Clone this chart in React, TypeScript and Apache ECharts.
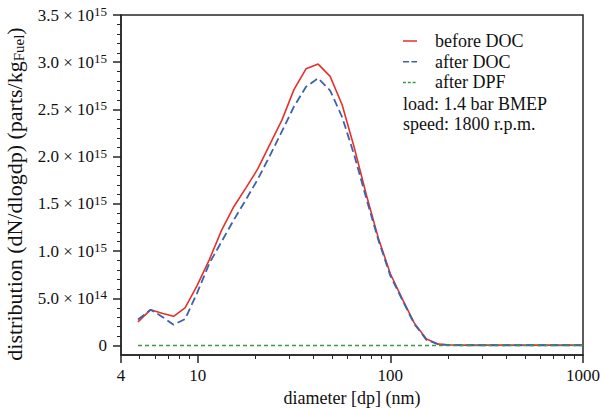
import React, { useEffect, useRef } from 'react';
import * as echarts from 'echarts';

// particle diameter (nm)
const diameters = [
  4.9, 5.7, 6.6, 7.5, 8.6, 9.9, 11.5, 13.3, 15.4, 17.8, 20.5, 23.7, 27.4, 31.6,
  36.5, 42.2, 48.7, 56.2, 64.9, 75.0, 86.6, 100, 115, 133, 154, 178, 205, 237,
  274, 316, 365, 422, 487, 562, 649, 750, 866, 1000,
];
// distribution values in units of 1e15 parts/kg fuel
const beforeDOC = [
  0.25, 0.38, 0.34, 0.31, 0.4, 0.63, 0.91, 1.22, 1.47, 1.67, 1.87, 2.13, 2.39, 2.71,
  2.93, 2.98, 2.85, 2.55, 2.1, 1.6, 1.14, 0.76, 0.5, 0.24, 0.07, 0.015, 0.006, 0.005,
  0.005, 0.005, 0.005, 0.005, 0.005, 0.005, 0.005, 0.005, 0.005, 0.005,
];
const afterDOC = [
  0.275, 0.38, 0.3, 0.22, 0.28, 0.55, 0.87, 1.1, 1.33, 1.545, 1.76, 2.01, 2.27, 2.53,
  2.74, 2.83, 2.7, 2.42, 2.02, 1.56, 1.12, 0.74, 0.49, 0.23, 0.06, 0.012, 0.004, 0.003,
  0.003, 0.003, 0.003, 0.003, 0.003, 0.003, 0.003, 0.003, 0.003, 0.003,
];
const afterDPF = [
  0, 0, 0, 0, 0, 0, 0, 0, 0, 0, 0, 0, 0, 0,
  0, 0, 0, 0, 0, 0, 0, 0, 0, 0, 0, 0, 0, 0,
  0, 0, 0, 0, 0, 0, 0, 0, 0, 0,
];
const seriesNames = ['before DOC', 'after DOC', 'after DPF'];
const noteLines = ['load: 1.4 bar BMEP', 'speed: 1800 r.p.m.'];

const xMajorTicks = [4, 10, 100, 1000];
const xMinorTicks = [5, 6, 7, 8, 9, 20, 30, 40, 50, 60, 70, 80, 90, 200, 300, 400, 500, 600, 700, 800, 900];
const yMajorTicks = [0, 0.5e15, 1.0e15, 1.5e15, 2.0e15, 2.5e15, 3.0e15, 3.5e15];
const yMinorTicks = [
  1e14, 2e14, 3e14, 4e14, 6e14, 7e14, 8e14, 9e14, 11e14, 12e14, 13e14, 14e14,
  16e14, 17e14, 18e14, 19e14, 21e14, 22e14, 23e14, 24e14, 26e14, 27e14, 28e14, 29e14,
  31e14, 32e14, 33e14, 34e14,
];

const FONT = '"Liberation Serif", "Times New Roman", serif';
const AXIS = '#262626';
const TEXT = '#111111';
const RED = '#e5312b';
const BLUE = '#3b63ad';
const GREEN = '#3d9a44';
const seriesColors = [RED, BLUE, GREEN];
const seriesDash: (number[] | null)[] = [null, [8, 4], [4, 3]];
const legendDash: (number[] | null)[] = [null, [6, 2.5], [3, 1.8]];
const seriesWidth = [1.6, 1.8, 1.5];

function sciLabel(v: number): string {
  if (Math.abs(v) < 1) return '{m|0}';
  const e = Math.floor(Math.log10(v) + 1e-9);
  const m = v / Math.pow(10, e);
  return `{m|${m.toFixed(1)} × 10}{s|${e}}`;
}

export default function App() {
  const ref = useRef<HTMLDivElement>(null);
  useEffect(() => {
    if (!ref.current) return;
    const chart = echarts.init(ref.current, undefined, { renderer: 'svg' });
    const toPairs = (vals: number[]) => diameters.map((d, i) => [d, vals[i] * 1e15]);
    const axisLineStyle = { color: AXIS, width: 1.5 };
    const legendX = 403;
    const legendY0 = 41;
    const rowH = 20.7;
    const graphics: any[] = [];
    seriesNames.forEach((name, i) => {
      const y = legendY0 + i * rowH;
      graphics.push({
        type: 'line',
        shape: { x1: legendX, y1: y, x2: legendX + 14, y2: y },
        style: { stroke: seriesColors[i], lineWidth: 1.5, lineDash: legendDash[i] || undefined },
        silent: true,
      });
      graphics.push({
        type: 'text', x: legendX + 32, y,
        style: { text: name, fontFamily: FONT, fontSize: 18, fill: TEXT, verticalAlign: 'middle', align: 'left' },
        silent: true,
      });
    });
    noteLines.forEach((t, i) => {
      graphics.push({
        type: 'text', x: legendX, y: legendY0 + (3 + i) * rowH + 0.5,
        style: { text: t, fontFamily: FONT, fontSize: 18, fill: TEXT, verticalAlign: 'middle', align: 'left' },
        silent: true,
      });
    });

    const option: any = {
      animation: false,
      backgroundColor: '#ffffff',
      grid: {
        left: 121, right: 18, top: 15, bottom: 54,
        containLabel: false, outerBoundsMode: 'none',
        show: true, borderColor: AXIS, borderWidth: 1.5, backgroundColor: 'transparent',
      },
      graphic: graphics,
      xAxis: [
        {
          type: 'log', logBase: 10, min: 4, max: 1000, position: 'bottom',
          axisLine: { show: true, onZero: false, lineStyle: axisLineStyle },
          axisTick: { show: true, inside: false, length: 8, customValues: xMajorTicks, lineStyle: axisLineStyle },
          axisLabel: {
            customValues: xMajorTicks, fontFamily: FONT, fontSize: 17, color: TEXT, margin: 12,
            formatter: (v: number) => String(Math.round(v)),
          },
          splitLine: { show: false },
          name: 'diameter [dp] (nm)', nameLocation: 'middle', nameGap: 34,
          nameTextStyle: { fontFamily: FONT, fontSize: 18, color: TEXT },
        },
        {
          type: 'log', logBase: 10, min: 4, max: 1000, position: 'bottom',
          axisLine: { show: false, onZero: false },
          axisTick: { show: true, inside: false, length: 4, customValues: xMinorTicks, lineStyle: { color: AXIS, width: 1 } },
          axisLabel: { show: false },
          splitLine: { show: false },
        },
      ],
      yAxis: [
        {
          type: 'value', min: -1e14, max: 3.5e15, position: 'left',
          axisLine: { show: true, onZero: false, lineStyle: axisLineStyle },
          axisTick: { show: true, inside: false, length: 8, customValues: yMajorTicks, lineStyle: axisLineStyle },
          axisLabel: {
            customValues: yMajorTicks, margin: 14, formatter: sciLabel,
            rich: {
              m: { fontFamily: FONT, fontSize: 17, color: TEXT, lineHeight: 20 },
              s: { fontFamily: FONT, fontSize: 13, color: TEXT, lineHeight: 12, verticalAlign: 'top' },
            },
          },
          splitLine: { show: false },
          name: '{t|distribution (dN/dlogdp) (parts/kg}{b|Fuel}{t|)}',
          nameLocation: 'middle', nameGap: 89,
          nameTextStyle: {
            padding: [0, 18, 0, 0],
            rich: {
              t: { fontFamily: FONT, fontSize: 22, color: TEXT, lineHeight: 25 },
              b: { fontFamily: FONT, fontSize: 15, color: TEXT, lineHeight: 16, verticalAlign: 'bottom' },
            },
          },
        },
        {
          type: 'value', min: -1e14, max: 3.5e15, position: 'left', offset: 0,
          axisLine: { show: false, onZero: false },
          axisTick: { show: true, inside: false, length: 4, customValues: yMinorTicks, lineStyle: { color: AXIS, width: 1 } },
          axisLabel: { show: false },
          splitLine: { show: false },
        },
      ],
      series: seriesNames.map((name, i) => ({
        name, type: 'line', xAxisIndex: 0, yAxisIndex: 0,
        data: toPairs([beforeDOC, afterDOC, afterDPF][i]), symbol: 'none',
        lineStyle: { color: seriesColors[i], width: seriesWidth[i], type: seriesDash[i] || 'solid' },
        itemStyle: { color: seriesColors[i] }, z: 3 + i,
      })),
    };
    chart.setOption(option);
    return () => chart.dispose();
  }, []);
  return (
    <div
      ref={ref}
      style={{ position: 'absolute', left: 0, top: 0, width: 601, height: 409, background: '#fff' }}
    />
  );
}
